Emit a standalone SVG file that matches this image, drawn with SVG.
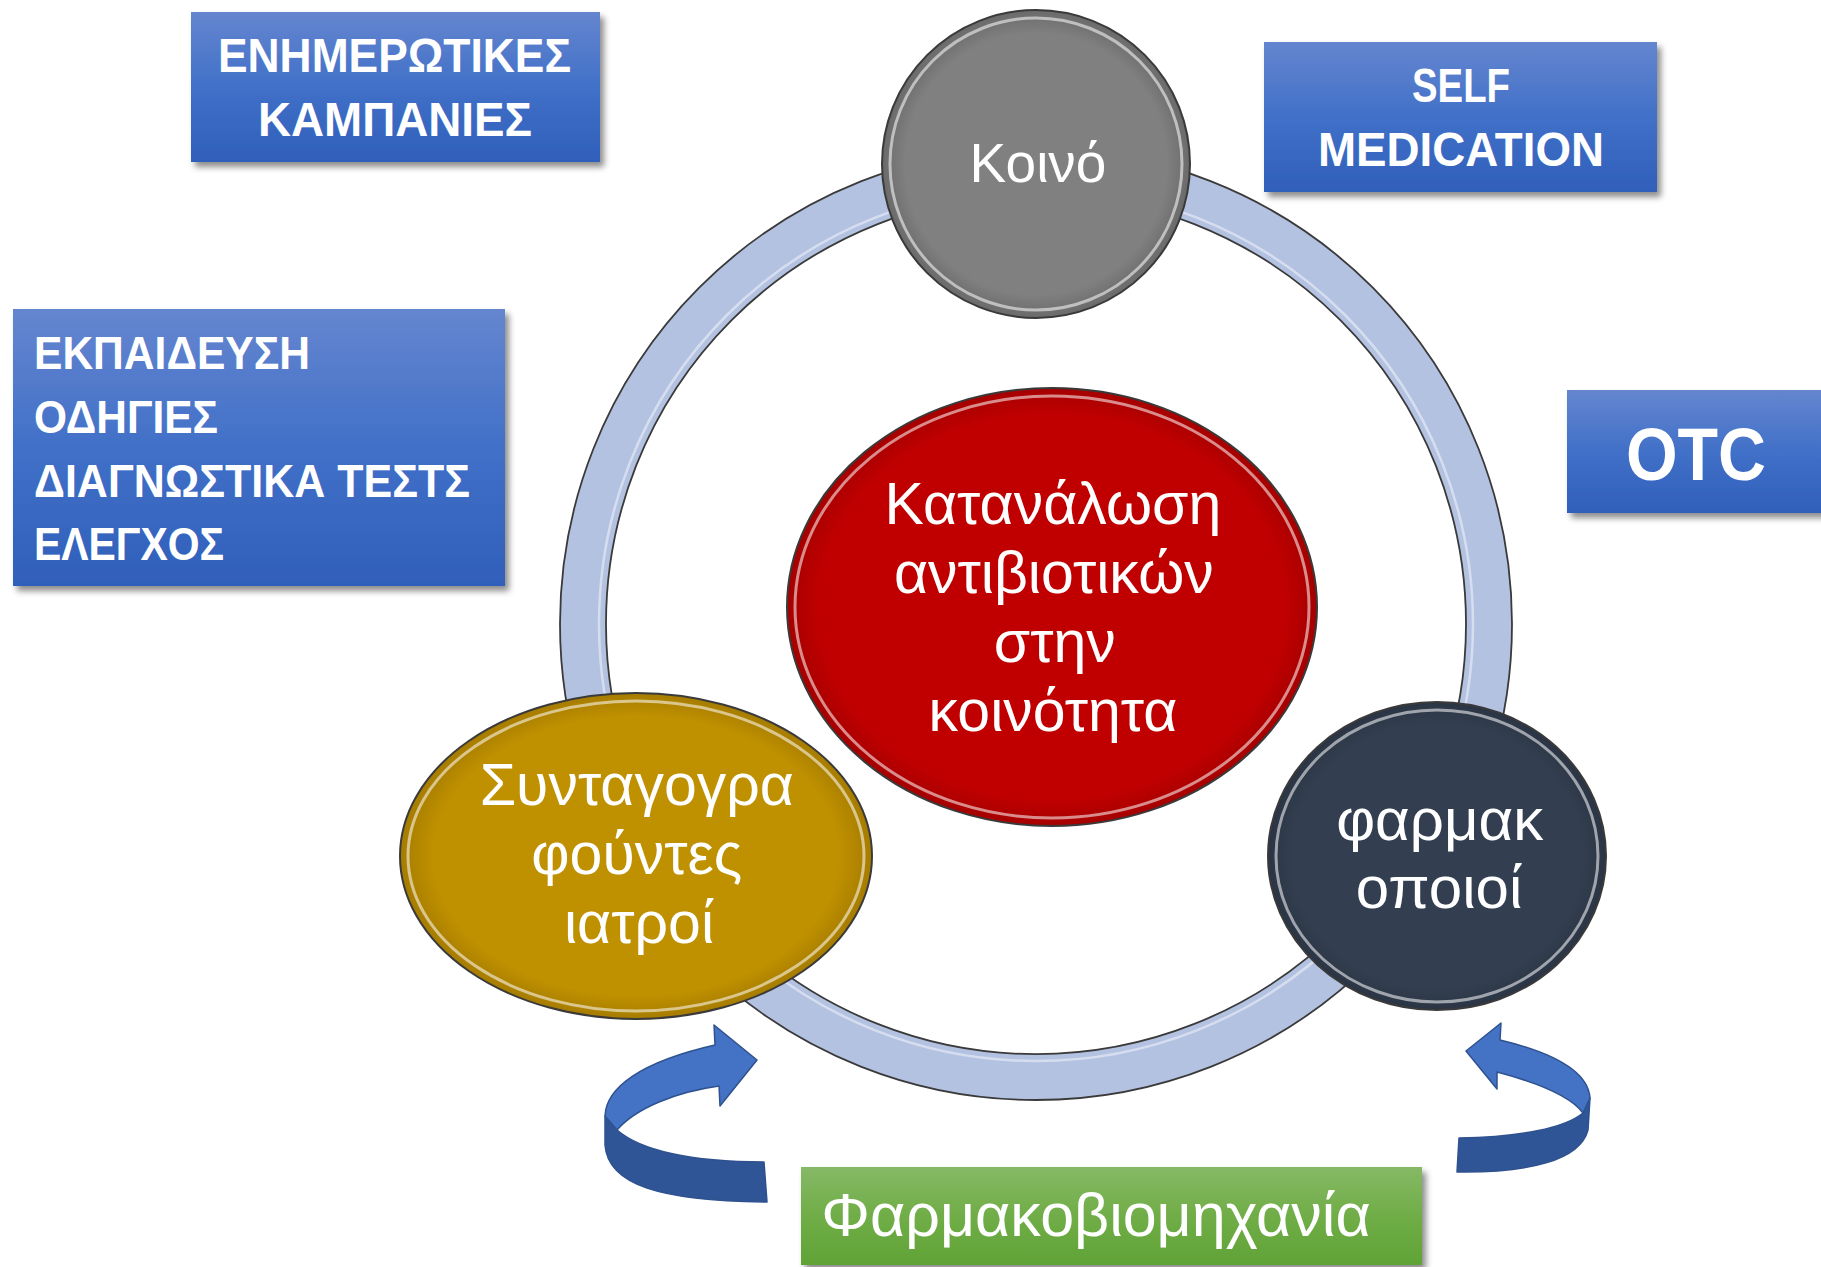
<svg xmlns="http://www.w3.org/2000/svg" width="1821" height="1267" viewBox="0 0 1821 1267">
  <defs>
    <style>
      .boxtxt { font-family: "Liberation Sans", Arial, sans-serif; font-weight: bold; fill: #ffffff; }
      .ctxt { font-family: "Liberation Sans", Arial, sans-serif; fill: #ffffff; text-anchor: middle; }
      .edge { stroke: #3a3a3a; stroke-width: 2; }
      .hl { fill: none; stroke: #ffffff; stroke-opacity: 0.55; stroke-width: 3; }
      .arrowLight { fill: #4472c4; stroke: #2f528f; stroke-width: 1.5; stroke-linejoin: round; }
      .arrowDark { fill: #2f5597; stroke: #2f528f; stroke-width: 1.5; stroke-linejoin: round; }
    </style>
    <linearGradient id="blueBox" x1="0" y1="0" x2="0" y2="1">
      <stop offset="0" stop-color="#6586cf"/>
      <stop offset="0.5" stop-color="#4170c8"/>
      <stop offset="1" stop-color="#2f5fba"/>
    </linearGradient>
    <linearGradient id="greenBox" x1="0" y1="0" x2="0" y2="1">
      <stop offset="0" stop-color="#86b966"/>
      <stop offset="0.5" stop-color="#70ad47"/>
      <stop offset="1" stop-color="#60a336"/>
    </linearGradient>
    <radialGradient id="greyG" cx="0.5" cy="0.5" r="0.5">
      <stop offset="0.85" stop-color="#808080"/>
      <stop offset="1" stop-color="#6a6a6a"/>
    </radialGradient>
    <radialGradient id="redG" cx="0.5" cy="0.5" r="0.5">
      <stop offset="0.88" stop-color="#c00000"/>
      <stop offset="1" stop-color="#a50000"/>
    </radialGradient>
    <radialGradient id="goldG" cx="0.5" cy="0.5" r="0.5">
      <stop offset="0.86" stop-color="#bf9000"/>
      <stop offset="1" stop-color="#a67c00"/>
    </radialGradient>
    <radialGradient id="darkG" cx="0.5" cy="0.5" r="0.5">
      <stop offset="0.86" stop-color="#333f50"/>
      <stop offset="1" stop-color="#2a3444"/>
    </radialGradient>
    <filter id="shadow" x="-10%" y="-10%" width="125%" height="130%">
      <feDropShadow dx="4" dy="5" stdDeviation="3" flood-color="#000000" flood-opacity="0.45"/>
    </filter>
  </defs>

  <rect width="1821" height="1267" fill="#ffffff"/>

  <g id="ring">
    <path d="M 560,624 A 476,476 0 1 0 1512,624 A 476,476 0 1 0 560,624 Z M 606,624 A 430,430 0 1 1 1466,624 A 430,430 0 1 1 606,624 Z" fill="#b4c2e2" fill-rule="evenodd" stroke="#3a3a3a" stroke-width="1.8"/>
    <circle cx="1036" cy="624" r="437" fill="none" stroke="#ffffff" stroke-opacity="0.45" stroke-width="2.5"/>
  </g>

  <g id="connectors">
    <g id="arrow-left">
      <path class="arrowDark" d="M605,1116 L605,1145 C608,1185 660,1201 767,1202 L764,1162 C690,1162 640,1150 617,1130 Z"/>
      <path class="arrowLight" d="M605,1116 C606,1088 640,1062 715,1045 L714,1025 L757,1060 L720,1106 L719,1086 C676,1092 636,1108 617,1130 Z"/>
    </g>
    <g id="arrow-right">
      <path class="arrowDark" d="M1590,1098 L1588,1130 C1580,1160 1530,1173 1457,1172 L1459,1138 C1520,1137 1565,1128 1583,1113 Z"/>
      <path class="arrowLight" d="M1590,1098 C1588,1070 1550,1052 1500,1040 L1501,1023 L1466,1051 L1497,1089 L1497,1072 C1535,1082 1570,1095 1583,1113 Z"/>
    </g>
  </g>

  <g id="node-koino">
    <circle cx="1036" cy="164" r="154" fill="url(#greyG)" class="edge"/>
    <circle cx="1036" cy="164" r="146" class="hl"/>
    <text class="ctxt" x="1038" y="182" font-size="55">Κοινό</text>
  </g>

  <g id="node-katanalosi">
    <ellipse cx="1052" cy="607" rx="265" ry="219" fill="url(#redG)" class="edge"/>
    <ellipse cx="1052" cy="607" rx="257" ry="211" class="hl"/>
    <text class="ctxt" font-size="59">
      <tspan x="1061" y="524">Κατανάλωση</tspan>
      <tspan x="1062" y="593">αντιβιοτικών</tspan>
      <tspan x="1063" y="662">στην</tspan>
      <tspan x="1053" y="731">κοινότητα</tspan>
    </text>
  </g>

  <g id="node-iatroi">
    <ellipse cx="636" cy="856" rx="236" ry="163" fill="url(#goldG)" class="edge"/>
    <ellipse cx="636" cy="856" rx="228" ry="155" class="hl"/>
    <text class="ctxt" font-size="59">
      <tspan x="645" y="805">Συνταγογρα</tspan>
      <tspan x="645" y="874">φούντες</tspan>
      <tspan x="639" y="943">ιατροί</tspan>
    </text>
  </g>

  <g id="node-farmakopoioi">
    <ellipse cx="1437" cy="856" rx="169" ry="154" fill="url(#darkG)" class="edge"/>
    <ellipse cx="1437" cy="856" rx="161" ry="146" class="hl"/>
    <text class="ctxt" font-size="60">
      <tspan x="1448" y="840">φαρμακ</tspan>
      <tspan x="1439" y="908">οποιοί</tspan>
    </text>
  </g>

  <g id="box-enimerotikes">
    <rect x="191" y="12" width="409" height="150" fill="url(#blueBox)" filter="url(#shadow)"/>
    <text class="boxtxt" font-size="48" lengthAdjust="spacingAndGlyphs">
      <tspan x="218" y="72" textLength="353" lengthAdjust="spacingAndGlyphs">ΕΝΗΜΕΡΩΤΙΚΕΣ</tspan>
    </text>
    <text class="boxtxt" font-size="48">
      <tspan x="258" y="136" textLength="274" lengthAdjust="spacingAndGlyphs">ΚΑΜΠΑΝΙΕΣ</tspan>
    </text>
  </g>

  <g id="box-ekpaideysi">
    <rect x="13" y="309" width="492" height="277" fill="url(#blueBox)" filter="url(#shadow)"/>
    <text class="boxtxt" font-size="47" x="34" y="369" textLength="276" lengthAdjust="spacingAndGlyphs">ΕΚΠΑΙΔΕΥΣΗ</text>
    <text class="boxtxt" font-size="47" x="34" y="433" textLength="184" lengthAdjust="spacingAndGlyphs">ΟΔΗΓΙΕΣ</text>
    <text class="boxtxt" font-size="47" x="34" y="497" textLength="436" lengthAdjust="spacingAndGlyphs">ΔΙΑΓΝΩΣΤΙΚΑ ΤΕΣΤΣ</text>
    <text class="boxtxt" font-size="47" x="34" y="560" textLength="190" lengthAdjust="spacingAndGlyphs">ΕΛΕΓΧΟΣ</text>
  </g>

  <g id="box-self-medication">
    <rect x="1264" y="42" width="393" height="150" fill="url(#blueBox)" filter="url(#shadow)"/>
    <text class="boxtxt" font-size="48" x="1412" y="102" textLength="98" lengthAdjust="spacingAndGlyphs">SELF</text>
    <text class="boxtxt" font-size="48" x="1318" y="166" textLength="286" lengthAdjust="spacingAndGlyphs">MEDICATION</text>
  </g>

  <g id="box-otc">
    <rect x="1567" y="390" width="260" height="123" fill="url(#blueBox)" filter="url(#shadow)"/>
    <text class="boxtxt" font-size="74" x="1626" y="480" textLength="140" lengthAdjust="spacingAndGlyphs">OTC</text>
  </g>

  <g id="box-farmakoviomichania">
    <rect x="801" y="1167" width="621" height="98" fill="url(#greenBox)" filter="url(#shadow)"/>
    <text class="ctxt" font-size="61" x="1096" y="1236">Φαρμακοβιομηχανία</text>
  </g>
</svg>
